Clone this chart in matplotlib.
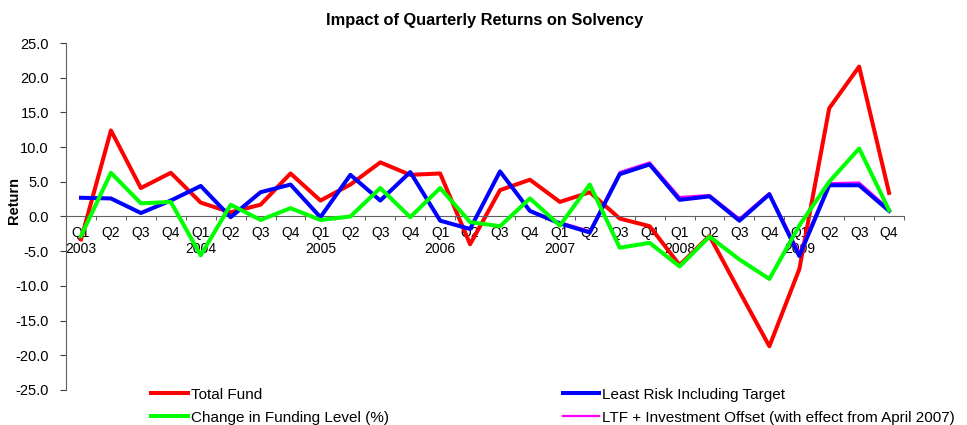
import numpy as np
import matplotlib
matplotlib.use('Agg')
import matplotlib.pyplot as plt

plt.rcParams['font.family'] = ['Liberation Sans', 'DejaVu Sans']

# quarters Q1 2003 .. Q4 2009
quarters = ['Q1', 'Q2', 'Q3', 'Q4'] * 7
years = ['2003', '2004', '2005', '2006', '2007', '2008', '2009']

total_fund = [-3.3, 12.4, 4.1, 6.3, 2.0, 0.6, 1.7, 6.2, 2.3, 4.6,
              7.8, 6.0, 6.2, -4.0, 3.8, 5.3, 2.1, 3.5, -0.3, -1.4,
              -7.0, -2.8, -10.8, -18.7, -7.6, 15.6, 21.6, 3.4]
least_risk = [2.7, 2.6, 0.5, 2.3, 4.4, -0.1, 3.5, 4.6, -0.1, 6.0,
              2.3, 6.4, -0.6, -1.8, 6.5, 0.8, -1.0, -2.3, 6.1, 7.5,
              2.4, 2.9, -0.6, 3.2, -5.7, 4.5, 4.5, 0.8]
funding_level = [-2.8, 6.3, 1.9, 2.1, -5.6, 1.7, -0.5, 1.2, -0.5, 0.0,
                 4.1, -0.1, 4.1, -0.8, -1.4, 2.6, -1.3, 4.6, -4.5, -3.8,
                 -7.2, -2.9, -6.2, -9.0, -1.3, 5.0, 9.8, 0.9]
ltf_offset = [None] * 16 + [-0.8, -2.1, 6.4, 7.8, 2.8, 3.1, -0.3, 3.4,
                            -5.2, 4.8, 4.9, 1.1]

labels = []
for i, q in enumerate(quarters):
    labels.append(q + '\n' + years[i // 4] if q == 'Q1' else q)

x = np.arange(len(quarters))
ltf = np.array([np.nan if v is None else v for v in ltf_offset])

fig = plt.figure(figsize=(9.67, 4.25), dpi=100)
ax = fig.add_axes([0.0683, 0.0824, 0.8666, 0.8164])

l1, = ax.plot(x, total_fund, color='#FF0000', lw=2.9, zorder=2, label='Total Fund')
l2, = ax.plot(x, least_risk, color='#0000FF', lw=2.9, zorder=3,
              label='Least Risk Including Target')
l4, = ax.plot(x, ltf, color='#FF00FF', lw=1.6, zorder=2.9,
              label='LTF + Investment Offset (with effect from April 2007)')
l3, = ax.plot(x, funding_level, color='#00FF00', lw=2.9, zorder=4,
              label='Change in Funding Level (%)')

ax.set_xlim(-0.5, len(x) - 0.5)
ax.set_ylim(-25, 25)
ax.set_yticks(np.arange(-25, 26, 5))
ax.set_yticklabels(['%.1f' % v for v in np.arange(-25, 26, 5)], fontsize=10.5)
ax.tick_params(axis='y', direction='out', length=4.3, pad=8, color='#404040')

ax.set_xticks(x)
ax.set_xticklabels(labels, fontsize=6, linespacing=0.85, color='#202020')
ax.set_xticks(np.arange(-0.5, len(x), 1), minor=True)
ax.tick_params(axis='x', which='major', length=0, pad=6.5)
ax.tick_params(axis='x', which='minor', direction='out', length=3, color='#404040')

for s in ['top', 'right']:
    ax.spines[s].set_visible(False)
ax.spines['bottom'].set_position(('data', 0))
ax.spines['bottom'].set_color('#606060')
ax.spines['left'].set_color('#606060')

ax.set_title('Impact of Quarterly Returns on Solvency', fontsize=11.8,
             fontweight='bold', pad=13)
ax.set_ylabel('Return', fontsize=10.5, fontweight='bold')
ax.yaxis.set_label_coords(-0.054, 0.545)

fig.legend(handles=[l1, l3, l2, l4], ncol=2, frameon=False, fontsize=11,
           loc='upper left', bbox_to_anchor=(0.156, 0.088),
           handlelength=2.4, handletextpad=0.2, columnspacing=11.4,
           labelspacing=0.6, borderaxespad=0, borderpad=0)

fig.savefig('out.png', dpi=100)
